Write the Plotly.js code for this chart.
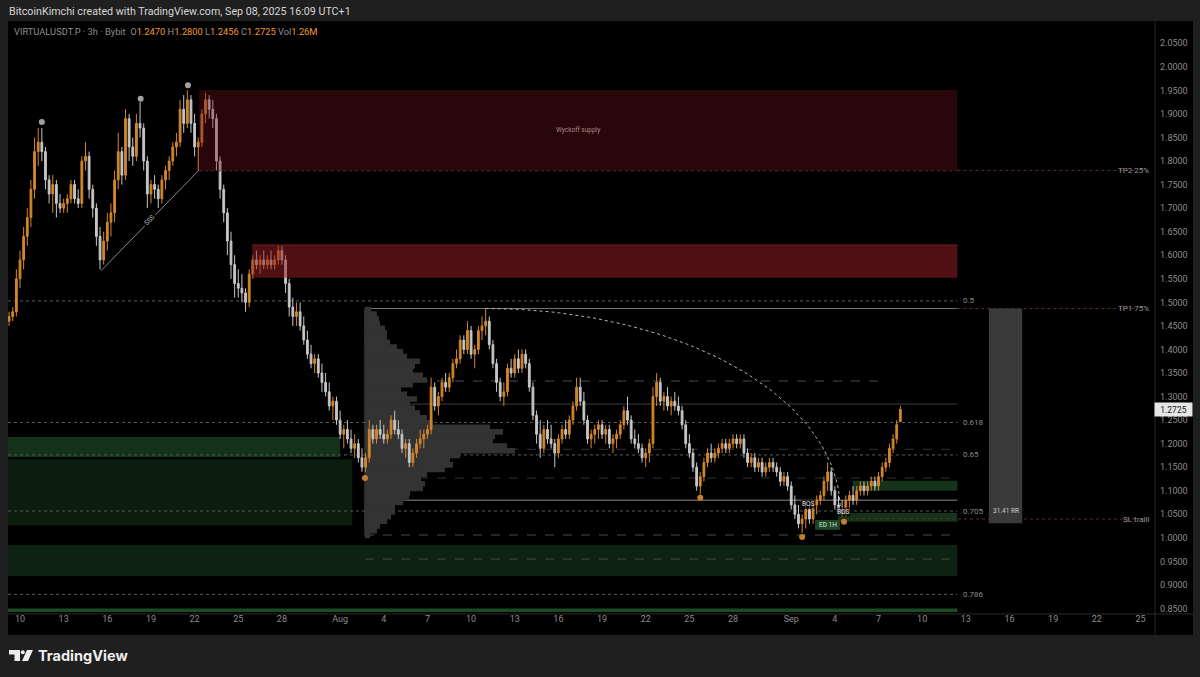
<!DOCTYPE html>
<html><head><meta charset="utf-8">
<script src="https://cdn.plot.ly/plotly-3.0.1.min.js"></script>
<style>html,body{margin:0;padding:0;background:#1f1f1f;}#chart{width:1200px;height:677px;}</style>
</head><body><div id="chart"></div>
<script>
// ---------------- DATA ----------------
const symbolLine = 'VIRTUALUSDT.P · 3h · Bybit';
const lastOHLC = {o:'1.2470', h:'1.2800', l:'1.2456', c:'1.2725', vol:'1.26M'};
const lastPrice = 1.2725;

// 6h candles starting 2025-07-09 06:00
const barStartUTC = Date.UTC(2025, 6, 9, 6, 0, 0);
const barHours = 6;
const open = [
 1.46,1.47,1.48,
 1.55,1.59,1.64,1.68, 1.74,1.82,1.84,1.82, 1.76,1.73,1.75,1.71, 1.70,1.71,1.72,1.75,
 1.72,1.71,1.80,1.81, 1.74,1.70,1.64,1.59, 1.63,1.67,1.69,1.76, 1.82,1.77,1.89,1.83,
 1.81,1.88,1.87,1.80, 1.73,1.75,1.74,1.72, 1.76,1.78,1.80,1.83, 1.84,1.91,1.88,1.93,
 1.88,1.83,1.84,1.90, 1.93,1.91,1.89,1.80, 1.74,1.69,1.63,1.58, 1.54,1.53,1.52,1.50,
 1.56,1.59,1.58,1.59, 1.58,1.59,1.58,1.59, 1.61,1.59,1.54,1.49, 1.47,1.48,1.45,1.42,
 1.39,1.37,1.38,1.35, 1.33,1.31,1.28,1.29,
 1.25,1.22,1.23,1.21, 1.19,1.20,1.17,1.15, 1.17,1.23,1.21,1.23, 1.22,1.21,1.22,1.25,
 1.23,1.22,1.19,1.20, 1.16,1.18,1.20,1.21, 1.22,1.23,1.32,1.28, 1.30,1.33,1.32,1.34,
 1.37,1.38,1.42,1.40, 1.44,1.39,1.40,1.44, 1.45,1.46,1.41,1.37, 1.33,1.30,1.31,1.36,
 1.35,1.38,1.36,1.39, 1.37,1.32,1.26,1.22, 1.19,1.23,1.21,1.20, 1.18,1.21,1.23,1.22,
 1.25,1.28,1.32,1.29, 1.25,1.21,1.22,1.23, 1.24,1.22,1.23,1.20, 1.21,1.22,1.24,1.27,
 1.25,1.21,1.20,1.19, 1.17,1.18,1.20,1.30, 1.33,1.29,1.30,1.28, 1.29,1.28,1.27,1.24,
 1.20,1.18,1.15,1.11, 1.13,1.16,1.18,1.17, 1.18,1.19,1.20,1.19, 1.20,1.21,1.20,1.21,
 1.18,1.16,1.17,1.15, 1.16,1.14,1.15,1.16, 1.15,1.14,1.12,1.13,
 1.11,1.07,1.05,1.03, 1.04,1.06,1.04,1.07, 1.08,1.09,1.12,1.14, 1.10,1.07,1.06,1.05,
 1.08,1.09,1.08,1.10, 1.11,1.10,1.11,1.12, 1.11,1.13,1.15,1.16,
 1.19,1.21,1.2470
];
const high = [
 1.48,1.49,1.57,
 1.61,1.66,1.70,1.76, 1.85,1.87,1.87,1.83, 1.77,1.77,1.76,1.73, 1.72,1.73,1.76,1.76,
 1.74,1.81,1.84,1.82, 1.75,1.71,1.66,1.65, 1.69,1.71,1.78,1.86, 1.83,1.91,1.90,1.85,
 1.90,1.925,1.88,1.81, 1.76,1.77,1.75,1.77, 1.79,1.81,1.84,1.86, 1.93,1.94,1.95,1.94,
 1.90,1.85,1.91,1.945, 1.94,1.93,1.90,1.81, 1.75,1.70,1.65,1.60, 1.57,1.56,1.53,1.57,
 1.60,1.61,1.60,1.61, 1.60,1.61,1.60,1.62, 1.62,1.60,1.55,1.51, 1.50,1.50,1.47,1.44,
 1.41,1.39,1.39,1.37, 1.35,1.33,1.30,1.30,
 1.27,1.24,1.25,1.23, 1.22,1.21,1.19,1.18, 1.25,1.24,1.24,1.25, 1.24,1.23,1.26,1.27,
 1.25,1.23,1.21,1.21, 1.19,1.21,1.23,1.23, 1.24,1.34,1.33,1.31, 1.34,1.35,1.35,1.38,
 1.40,1.43,1.43,1.46, 1.45,1.41,1.45,1.47, 1.487,1.47,1.42,1.38, 1.34,1.33,1.37,1.38,
 1.39,1.40,1.40,1.40, 1.38,1.33,1.27,1.25, 1.24,1.25,1.24,1.21, 1.22,1.24,1.25,1.26,
 1.29,1.34,1.34,1.31, 1.26,1.23,1.24,1.25, 1.25,1.24,1.24,1.22, 1.23,1.25,1.28,1.30,
 1.26,1.23,1.22,1.20, 1.19,1.21,1.32,1.35, 1.34,1.31,1.32,1.30, 1.31,1.30,1.28,1.25,
 1.22,1.19,1.16,1.14, 1.17,1.19,1.20,1.19, 1.20,1.21,1.21,1.21, 1.22,1.22,1.22,1.22,
 1.19,1.18,1.18,1.17, 1.17,1.16,1.17,1.17, 1.16,1.15,1.14,1.14,
 1.12,1.09,1.07,1.05, 1.07,1.07,1.08,1.09, 1.10,1.13,1.16,1.15, 1.11,1.09,1.08,1.09,
 1.10,1.11,1.11,1.12, 1.12,1.12,1.13,1.13, 1.14,1.16,1.17,1.20,
 1.22,1.25,1.2800
];
const low = [
 1.45,1.46,1.47,
 1.53,1.57,1.62,1.66, 1.72,1.79,1.80,1.74, 1.71,1.69,1.68,1.69, 1.69,1.69,1.71,1.71,
 1.70,1.70,1.78,1.72, 1.68,1.62,1.57,1.58, 1.61,1.64,1.67,1.74, 1.75,1.76,1.80,1.79,
 1.80,1.85,1.78,1.70, 1.71,1.72,1.70,1.71, 1.74,1.76,1.79,1.81, 1.83,1.86,1.87,1.86,
 1.81,1.78,1.83,1.88, 1.89,1.87,1.78,1.72, 1.67,1.60,1.55,1.51, 1.51,1.50,1.48,1.49,
 1.55,1.57,1.56,1.57, 1.57,1.57,1.57,1.58, 1.58,1.52,1.47,1.45, 1.45,1.44,1.41,1.38,
 1.36,1.35,1.34,1.31, 1.30,1.27,1.25,1.24,
 1.21,1.19,1.20,1.18, 1.17,1.16,1.14,1.14, 1.16,1.20,1.20,1.21, 1.20,1.20,1.21,1.22,
 1.21,1.18,1.17,1.15, 1.15,1.17,1.19,1.19, 1.21,1.22,1.27,1.26, 1.29,1.31,1.31,1.33,
 1.36,1.37,1.39,1.39, 1.38,1.36,1.39,1.42, 1.43,1.40,1.36,1.31, 1.29,1.28,1.30,1.34,
 1.34,1.35,1.35,1.36, 1.31,1.25,1.20,1.17, 1.18,1.20,1.19,1.15, 1.17,1.20,1.21,1.21,
 1.24,1.27,1.28,1.24, 1.20,1.19,1.20,1.21, 1.21,1.20,1.19,1.18, 1.19,1.21,1.23,1.24,
 1.20,1.19,1.18,1.16, 1.15,1.16,1.19,1.28, 1.28,1.27,1.27,1.26, 1.27,1.26,1.23,1.19,
 1.17,1.14,1.10,1.092, 1.12,1.15,1.16,1.16, 1.17,1.18,1.18,1.18, 1.19,1.19,1.19,1.17,
 1.15,1.15,1.14,1.14, 1.13,1.13,1.14,1.14, 1.13,1.11,1.11,1.10,
 1.06,1.04,1.02,1.01, 1.02,1.03,1.03,1.05, 1.07,1.08,1.10,1.09, 1.06,1.05,1.045,1.045,
 1.06,1.07,1.07,1.09, 1.09,1.09,1.10,1.10, 1.10,1.12,1.14,1.15,
 1.18,1.20,1.2456
];
const close = [
 1.47,1.48,1.55,
 1.59,1.64,1.68,1.74, 1.82,1.84,1.82,1.76, 1.73,1.75,1.71,1.70, 1.71,1.72,1.75,1.72,
 1.71,1.80,1.81,1.74, 1.70,1.64,1.59,1.63, 1.67,1.69,1.76,1.82, 1.77,1.89,1.83,1.81,
 1.88,1.87,1.80,1.73, 1.75,1.74,1.72,1.76, 1.78,1.80,1.83,1.84, 1.91,1.88,1.93,1.88,
 1.83,1.84,1.90,1.93, 1.91,1.89,1.80,1.74, 1.69,1.63,1.58,1.54, 1.53,1.52,1.50,1.56,
 1.59,1.58,1.59,1.58, 1.59,1.58,1.59,1.61, 1.59,1.54,1.49,1.47, 1.48,1.45,1.42,1.39,
 1.37,1.38,1.35,1.33, 1.31,1.28,1.29,1.25,
 1.22,1.23,1.21,1.19, 1.20,1.17,1.15,1.17, 1.23,1.21,1.23,1.22, 1.21,1.22,1.25,1.23,
 1.22,1.19,1.20,1.16, 1.18,1.20,1.21,1.22, 1.23,1.32,1.28,1.30, 1.33,1.32,1.34,1.37,
 1.38,1.42,1.40,1.44, 1.39,1.40,1.44,1.45, 1.46,1.41,1.37,1.33, 1.30,1.31,1.36,1.35,
 1.38,1.36,1.39,1.37, 1.32,1.26,1.22,1.19, 1.23,1.21,1.20,1.18, 1.21,1.23,1.22,1.25,
 1.28,1.32,1.29,1.25, 1.21,1.22,1.23,1.24, 1.22,1.23,1.20,1.21, 1.22,1.24,1.27,1.25,
 1.21,1.20,1.19,1.17, 1.18,1.20,1.30,1.33, 1.29,1.30,1.28,1.29, 1.28,1.27,1.24,1.20,
 1.18,1.15,1.11,1.13, 1.16,1.18,1.17,1.18, 1.19,1.20,1.19,1.20, 1.21,1.20,1.21,1.18,
 1.16,1.17,1.15,1.16, 1.14,1.15,1.16,1.15, 1.14,1.12,1.13,1.11,
 1.07,1.05,1.03,1.04, 1.06,1.04,1.07,1.08, 1.09,1.12,1.14,1.10, 1.07,1.06,1.05,1.08,
 1.09,1.08,1.10,1.11, 1.10,1.11,1.12,1.11, 1.13,1.15,1.16,1.19,
 1.21,1.24,1.2725
];

// Volume profile (fixed range) rows
const vpStart = '2025-08-02 17:00';
const vpTop = 1.487, vpBottom = 1.005;
const vpPrice = [1.485,1.475,1.465,1.455,1.445,1.435,1.425,1.415,1.405,1.395,1.385,1.375,1.365,1.355,1.345,1.335,1.325,1.315,1.305,1.295,1.285,1.275,1.265,1.255,1.245,1.235,1.225,1.215,1.205,1.195,1.185,1.175,1.165,1.155,1.145,1.135,1.125,1.115,1.105,1.095,1.085,1.075,1.065,1.055,1.045,1.035,1.025,1.015,1.005];
const vpVolume = [6,12,14,15,20,22,22,25,32,38,42,55,50,48,58,62,48,36,42,52,45,50,55,62,68,125,138,130,128,142,150,95,85,88,80,62,56,60,58,45,44,38,30,30,26,22,15,12,5];

// Zones
const supplyStart = ['2025-07-22 07:30', '2025-07-25 23:00'];
const supplyEnd = ['2025-09-12 10:00', '2025-09-12 10:00'];
const supplyTop = [1.951, 1.622];
const supplyBottom = [1.779, 1.552];
const supplyLabel = ['Wyckoff supply', ''];

const demandStart = ['2025-07-09 04:12','2025-07-09 04:12','2025-07-09 04:12','2025-07-09 04:12','2025-09-05 06:00','2025-09-04 05:00'];
const demandEnd = ['2025-08-01 00:00','2025-08-01 20:00','2025-09-12 10:00','2025-09-12 10:00','2025-09-12 10:00','2025-09-12 10:00'];
const demandTop = [1.214, 1.167, 0.985, 0.850, 1.121, 1.053];
const demandBottom = [1.171, 1.027, 0.919, 0.842, 1.100, 1.034];

// Fibonacci retracement levels
const fibLabel = ['0.5','0.618','0.65','0.705','0.786'];
const fibPrice = [1.503, 1.245, 1.176, 1.057, 0.880];
const fibStart = '2025-07-09 04:12', fibEnd = '2025-09-12 10:00';

// Profile levels
const profPrice = [1.333, 1.284, 1.188, 1.127, 1.080, 1.006, 0.955];
const profEnd = ['2025-09-07 06:00','2025-09-12 10:00','2025-09-12 10:00','2025-09-12 10:00','2025-09-12 10:00','2025-09-12 10:00','2025-09-12 10:00'];

// Targets
const targetLabel = ['TP2 25%', 'TP1 75%', 'SL traill'];
const targetPrice = [1.780, 1.487, 1.040];
const targetStart = ['2025-09-12 10:00', '2025-09-12 10:00', '2025-09-04 15:00'];
const targetEnd = '2025-09-24 14:00';

// Risk/reward box
const rrStart = '2025-09-14 14:00', rrEnd = '2025-09-16 21:00';
const rrTop = 1.487, rrBottom = 1.031, rrText = '31.41 RR';

// Swing points
const swingHighTime = ['2025-07-11 12:00','2025-07-18 07:00','2025-07-21 13:00'];
const swingHighPrice = [1.883, 1.932, 1.961];
const swingLowTime = ['2025-08-02 17:00','2025-08-25 18:00','2025-09-01 18:00','2025-09-04 15:00'];
const swingLowPrice = [1.127, 1.085, 1.002, 1.034];

// SSS trendline
const sssTime = ['2025-07-15 13:30','2025-07-22 07:30'];
const sssPrice = [1.567, 1.781];

// Arc
const arcTime = ['2025-08-11 00:00','2025-09-04 09:00'];
const arcPrice = [1.487, 1.059];

// BOS / ED labels
const bosTime = ['2025-09-02 04:00','2025-09-04 15:00'];
const bosPrice = [1.072, 1.055];
const edStart = '2025-09-02 15:20', edEnd = '2025-09-04 08:40', edTop = 1.038, edBottom = 1.017, edText = 'ED 1H';

// Axis ticks
const xTickVals = ['2025-07-10','2025-07-13','2025-07-16','2025-07-19','2025-07-22','2025-07-25','2025-07-28','2025-08-01','2025-08-04','2025-08-07','2025-08-10','2025-08-13','2025-08-16','2025-08-19','2025-08-22','2025-08-25','2025-08-28','2025-09-01','2025-09-04','2025-09-07','2025-09-10','2025-09-13','2025-09-16','2025-09-19','2025-09-22','2025-09-25'];
const xTickText = ['10','13','16','19','22','25','28','Aug','4','7','10','13','16','19','22','25','28','Sep','4','7','10','13','16','19','22','25'];

// ---------------- LAYOUT GEOMETRY ----------------
const W = 1200, H = 677;
const mL = 8, mR = 45, mT = 21, mB = 65;
const pw = W - mL - mR, ph = H - mT - mB;
const X0 = '2025-07-09 04:12', X1 = '2025-09-26 00:00';
const Y0 = 0.8426, Y1 = 2.0973;
const ms = s => new Date(s.replace(' ', 'T') + ':00Z').getTime();
const fmt = t => new Date(t).toISOString().slice(0, 16).replace('T', ' ');
const msPerPx = (ms(X1) - ms(X0)) / pw;
const px = x => (x - mL) / pw;        // page px -> paper x
const py = y => (mT + ph - y) / ph;   // page px -> paper y

const time = close.map((_, i) => fmt(barStartUTC + i * barHours * 3600e3));

const UP = '#d3862c', DN = '#c6c6c6';

const traces = [];
// volume profile (drawn first, under candles)
traces.push({
  type: 'bar', orientation: 'h', y: vpPrice, x: vpVolume.map(v => v * msPerPx),
  base: vpPrice.map(() => vpStart), width: 0.0118,
  marker: {color: '#333333', line: {width: 0}}, hoverinfo: 'skip'
});
traces.push({
  type: 'candlestick', x: time, open: open, high: high, low: low, close: close,
  increasing: {line: {color: UP, width: 1}, fillcolor: UP},
  decreasing: {line: {color: DN, width: 1}, fillcolor: DN},
  whiskerwidth: 0, hoverinfo: 'skip'
});
// arc
const arcN = 60, arcX = [], arcY = [];
const a0 = ms(arcTime[0]), a1 = ms(arcTime[1]);
for (let k = 0; k <= arcN; k++) {
  const th = (Math.PI / 2) * k / arcN;
  arcX.push(fmt(a0 + (a1 - a0) * Math.sin(th)));
  arcY.push(arcPrice[1] + (arcPrice[0] - arcPrice[1]) * Math.cos(th));
}
traces.push({type: 'scatter', mode: 'lines', x: arcX, y: arcY, line: {color: '#b5b5b5', width: 1, dash: 'dot'}, hoverinfo: 'skip'});
// SSS line
traces.push({type: 'scatter', mode: 'lines', x: sssTime, y: sssPrice, line: {color: '#8a8a8a', width: 1}, hoverinfo: 'skip'});
// swing dots
traces.push({type: 'scatter', mode: 'markers', x: swingHighTime, y: swingHighPrice, marker: {color: '#a0a0a0', size: 6}, hoverinfo: 'skip'});
traces.push({type: 'scatter', mode: 'markers', x: swingLowTime, y: swingLowPrice, marker: {color: '#c47d2c', size: 6}, hoverinfo: 'skip'});

// ---------------- SHAPES ----------------
const shapes = [];
// black chart panel
shapes.push({type: 'rect', xref: 'paper', yref: 'paper', x0: 0, x1: px(1193), y0: py(635), y1: 1, fillcolor: '#000', line: {width: 0}, layer: 'below'});
// axis separators
shapes.push({type: 'line', xref: 'paper', yref: 'paper', x0: 1, x1: 1, y0: py(635), y1: 1, line: {color: '#2a2a2a', width: 1}});
shapes.push({type: 'line', xref: 'paper', yref: 'paper', x0: 0, x1: px(1193), y0: py(614), y1: py(614), line: {color: '#2a2a2a', width: 1}});

const supplyFill = ['rgba(115,18,28,0.36)', 'rgba(150,30,36,0.52)'];
const supplyEdge = ['rgba(0,0,0,0)', 'rgba(170,45,50,0.6)'];
supplyStart.forEach((s, i) => {
  shapes.push({type: 'rect', xref: 'x', yref: 'y', x0: s, x1: supplyEnd[i], y0: supplyBottom[i], y1: supplyTop[i], fillcolor: supplyFill[i], line: {width: 0}, layer: 'above'});
  if (i === 1) shapes.push({type: 'line', xref: 'x', yref: 'y', x0: s, x1: supplyEnd[i], y0: supplyTop[i], y1: supplyTop[i], line: {color: supplyEdge[i], width: 1}, layer: 'above'});
});
const demandFill = ['#143119', '#0c1d0e', '#0e2211', '#1d4a22', '#15331a', '#15331a'];
demandStart.forEach((s, i) => {
  shapes.push({type: 'rect', xref: 'x', yref: 'y', x0: s, x1: demandEnd[i], y0: demandBottom[i], y1: demandTop[i], fillcolor: demandFill[i], line: {width: 0}, layer: 'below'});
});
// fib lines
fibPrice.forEach(p => shapes.push({type: 'line', xref: 'x', yref: 'y', x0: fibStart, x1: fibEnd, y0: p, y1: p, line: {color: '#5a5a5a', width: 1, dash: 'dot'}, layer: 'below'}));
// profile levels
const profStyle = [
  {color: '#4a4a4a', dash: 'dash'}, {color: '#3c3c3c', dash: 'solid'}, {color: '#333333', dash: 'dash'},
  {color: '#333333', dash: 'dash'}, {color: '#8a8a8a', dash: 'solid'}, {color: '#4a4a4a', dash: 'dash'}, {color: '#3f4f3f', dash: 'dash'}
];
profPrice.forEach((p, i) => shapes.push({type: 'line', xref: 'x', yref: 'y', x0: vpStart, x1: profEnd[i], y0: p, y1: p, line: {color: profStyle[i].color, width: 1, dash: profStyle[i].dash}, layer: 'below'}));
// profile box borders
shapes.push({type: 'line', xref: 'x', yref: 'y', x0: vpStart, x1: vpStart, y0: vpBottom, y1: vpTop, line: {color: '#555', width: 1}, layer: 'below'});
shapes.push({type: 'line', xref: 'x', yref: 'y', x0: vpStart, x1: fibEnd, y0: vpTop, y1: vpTop, line: {color: '#777', width: 1}, layer: 'below'});
shapes.push({type: 'line', xref: 'x', yref: 'y', x0: supplyStart[0], x1: supplyEnd[0], y0: supplyBottom[0], y1: supplyBottom[0], line: {color: '#4a2a2a', width: 1, dash: 'dot'}, layer: 'above'});
// target lines
targetPrice.forEach((p, i) => shapes.push({type: 'line', xref: 'x', yref: 'y', x0: targetStart[i], x1: targetEnd, y0: p, y1: p, line: {color: '#5e2a2a', width: 1, dash: 'dot'}, layer: 'below'}));
// RR box
shapes.push({type: 'rect', xref: 'x', yref: 'y', x0: rrStart, x1: rrEnd, y0: rrBottom, y1: rrTop, fillcolor: '#3a3a3a', line: {width: 0}, layer: 'below'});
// ED box
shapes.push({type: 'rect', xref: 'x', yref: 'y', x0: edStart, x1: edEnd, y0: edBottom, y1: edTop, fillcolor: '#1d4526', line: {width: 0}, layer: 'above'});
// TradingView logo
shapes.push({type: 'rect', xref: 'paper', yref: 'paper', x0: px(9), x1: px(20), y0: py(654.5), y1: py(650), fillcolor: '#eeeeee', line: {width: 0}});
shapes.push({type: 'rect', xref: 'paper', yref: 'paper', x0: px(14.5), x1: px(20), y0: py(661), y1: py(650), fillcolor: '#eeeeee', line: {width: 0}});
shapes.push({type: 'circle', xref: 'paper', yref: 'paper', x0: px(20.8), x1: px(24.8), y0: py(654.3), y1: py(650.3), fillcolor: '#eeeeee', line: {width: 0}});
shapes.push({type: 'path', xref: 'paper', yref: 'paper',
  path: `M ${px(27)} ${py(650)} L ${px(33)} ${py(650)} L ${px(28)} ${py(661)} L ${px(22)} ${py(661)} Z`,
  fillcolor: '#eeeeee', line: {width: 0}});

// ---------------- ANNOTATIONS ----------------
const ann = [];
const tf = (size, color) => ({family: 'Roboto, "Liberation Sans", sans-serif', size: size, color: color});
ann.push({xref: 'paper', yref: 'paper', x: px(7), y: py(11), xanchor: 'left', yanchor: 'middle', showarrow: false,
  text: 'BitcoinKimchi created with TradingView.com, Sep 08, 2025 16:09 UTC+1', font: tf(10.7, '#d6d6d6')});
const o = c => `<span style="color:#ef9a2e">${c}</span>`;
ann.push({xref: 'paper', yref: 'paper', x: px(12), y: py(31), xanchor: 'left', yanchor: 'middle', showarrow: false,
  text: `${symbolLine}  O${o(lastOHLC.o)} H${o(lastOHLC.h)} L${o(lastOHLC.l)} C${o(lastOHLC.c)} Vol${o(lastOHLC.vol)}`,
  font: tf(9.3, '#8e8e8e')});
ann.push({xref: 'paper', yref: 'paper', x: px(36), y: py(655.5), xanchor: 'left', yanchor: 'middle', showarrow: false,
  text: '<b>TradingView</b>', font: {family: 'Inter, Roboto, sans-serif', size: 14.5, color: '#eeeeee'}});
// supply label
const mid = (a, b) => fmt((ms(a) + ms(b)) / 2);
ann.push({xref: 'x', yref: 'y', x: mid(supplyStart[0], supplyEnd[0]), y: (supplyTop[0] + supplyBottom[0]) / 2, showarrow: false,
  text: supplyLabel[0], font: tf(6.5, '#a88c8c')});
// fib labels
fibLabel.forEach((t, i) => ann.push({xref: 'x', yref: 'y', x: fibEnd, y: fibPrice[i], xanchor: 'left', xshift: 4, showarrow: false, text: t, font: tf(8, '#8a8a8a')}));
// target labels
targetLabel.forEach((t, i) => ann.push({xref: 'paper', yref: 'y', x: px(1151), y: targetPrice[i], xanchor: 'right', showarrow: false, text: t, font: tf(8, '#9a9a9a')}));
// RR text
ann.push({xref: 'x', yref: 'y', x: mid(rrStart, rrEnd), y: rrBottom, yanchor: 'bottom', yshift: 6, showarrow: false, text: rrText, font: tf(6.5, '#cfcfcf')});
// BOS
bosTime.forEach((t, i) => ann.push({xref: 'x', yref: 'y', x: t, y: bosPrice[i], showarrow: false, text: 'BOS', font: tf(6.5, '#e0e0e0'), bgcolor: 'rgba(0,0,0,0.6)', borderpad: 0}));
// ED
ann.push({xref: 'x', yref: 'y', x: mid(edStart, edEnd), y: (edTop + edBottom) / 2, showarrow: false, text: edText, font: tf(6.5, '#d8e8d8')});
// SSS
ann.push({xref: 'x', yref: 'y', x: mid(sssTime[0], sssTime[1]), y: (sssPrice[0] + sssPrice[1]) / 2, showarrow: false, textangle: -46,
  text: 'SSS', font: tf(6.5, '#bdbdbd'), bgcolor: '#000'});
// last price tag
ann.push({xref: 'paper', yref: 'y', x: px(1174), y: lastPrice, xanchor: 'center', yanchor: 'middle', showarrow: false, text: lastPrice.toFixed(4),
  font: tf(8.5, '#151515'), bgcolor: '#e6e6e6', borderpad: 1.5, width: 34});

const layout = {
  width: W, height: H,
  margin: {l: mL, r: mR, t: mT, b: mB, pad: 0},
  paper_bgcolor: '#1f1f1f', plot_bgcolor: '#000000',
  showlegend: false, hovermode: false, dragmode: false,
  xaxis: {type: 'date', range: [X0, X1], rangeslider: {visible: false}, showgrid: false, zeroline: false,
    tickmode: 'array', tickvals: xTickVals, ticktext: xTickText, ticks: '', tickfont: tf(9, '#8c8c8c'), showline: false, fixedrange: true},
  yaxis: {range: [Y0, Y1], side: 'right', showgrid: false, zeroline: false, tick0: 0.85, dtick: 0.05, tickformat: '.4f',
    ticks: '', tickfont: tf(9, '#8c8c8c'), showline: false, fixedrange: true, ticklabelstandoff: 4},
  shapes: shapes, annotations: ann
};
Plotly.newPlot('chart', traces, layout, {staticPlot: true, displayModeBar: false});
</script></body></html>
